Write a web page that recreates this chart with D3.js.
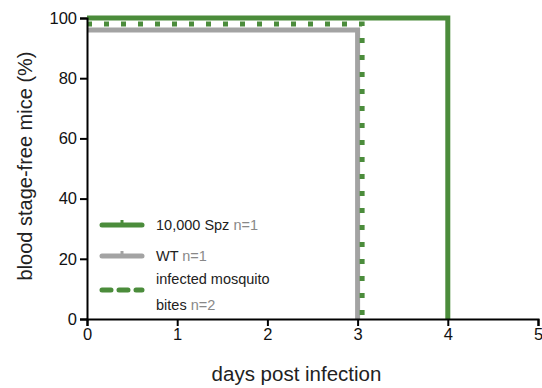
<!DOCTYPE html>
<html>
<head>
<meta charset="utf-8">
<script src="https://cdn.jsdelivr.net/npm/d3@7"></script>
<style>
  body { margin: 0; background: #fff; }
  text { font-family: "Liberation Sans", Arial, sans-serif; }
</style>
</head>
<body>
<div id="chart"></div>
<script>
// survival curves
var spzDays = [0, 4, 4]
var spzValues = [100, 100, 0]
var wtDays = [0, 3, 3]
var wtValues = [96, 96, 0]
var biteDays = [0, 3.05, 3.05]
var biteValues = [98, 98, 0]

var xTicks = [0, 1, 2, 3, 4, 5]
var yTicks = [0, 20, 40, 60, 80, 100]

var legendItems = [
  { label: '10,000 Spz', n: 'n=1', kind: 'spz' },
  { label: 'WT', n: 'n=1', kind: 'wt' },
  { label: 'infected mosquito', label2: 'bites', n: 'n=2', kind: 'bite' }
]

var GREEN = '#4b8c3b'
var GRAY = '#a3a3a3'

var width = 542
var height = 388
var margin = { left: 87, right: 4, top: 18, bottom: 69 }

var svg = d3.select('#chart').append('svg')
  .attr('width', width)
  .attr('height', height)

var x = d3.scaleLinear().domain([0, 5]).range([margin.left, width - margin.right])
var y = d3.scaleLinear().domain([0, 100]).range([height - margin.bottom, margin.top])

function toPoints (days, values) {
  return days.map(function (d, i) { return [d, values[i]] })
}

var line = d3.line()
  .x(function (d) { return x(d[0]) })
  .y(function (d) { return y(d[1]) })

// curves
svg.append('path')
  .attr('d', line(toPoints(wtDays, wtValues)))
  .attr('fill', 'none')
  .attr('stroke', GRAY)
  .attr('stroke-width', 5)

svg.append('path')
  .attr('d', line(toPoints(biteDays, biteValues)))
  .attr('fill', 'none')
  .attr('stroke', GREEN)
  .attr('stroke-width', 5)
  .attr('stroke-dasharray', '5,12')

svg.append('path')
  .attr('d', line(toPoints(spzDays, spzValues)))
  .attr('fill', 'none')
  .attr('stroke', GREEN)
  .attr('stroke-width', 5)

// axes
var xAxis = svg.append('g')
  .attr('transform', 'translate(0,' + y(0) + ')')
  .call(d3.axisBottom(x).tickValues(xTicks).tickFormat(d3.format('d')).tickSize(7).tickPadding(2))
var yAxis = svg.append('g')
  .attr('transform', 'translate(' + x(0) + ',0)')
  .call(d3.axisLeft(y).tickValues(yTicks).tickFormat(d3.format('d')).tickSize(7).tickPadding(3))

;[xAxis, yAxis].forEach(function (a) {
  a.select('.domain').attr('stroke', '#000').attr('stroke-width', 2)
  a.selectAll('.tick line').attr('stroke', '#000').attr('stroke-width', 2)
  a.selectAll('.tick text')
    .attr('fill', '#111')
    .style('font-size', '16.5px')
    .style('font-family', '"Liberation Sans", Arial, sans-serif')
})

svg.append('text')
  .attr('x', (x(0) + x(5)) / 2 - 16)
  .attr('y', 381)
  .attr('text-anchor', 'middle')
  .attr('fill', '#222')
  .style('font-size', '20.5px')
  .text('days post infection')

svg.append('text')
  .attr('transform', 'translate(32,166) rotate(-90)')
  .attr('text-anchor', 'middle')
  .attr('fill', '#222')
  .style('font-size', '20px')
  .text('blood stage-free mice (%)')

// legend
var legendRows = [225, 256, 290]
var legend = svg.append('g')
legendItems.forEach(function (item, i) {
  var ly = legendRows[i]
  var g = legend.append('g')
  if (item.kind === 'bite') {
    g.append('line')
      .attr('x1', 102).attr('x2', 142).attr('y1', ly).attr('y2', ly)
      .attr('stroke', GREEN).attr('stroke-width', 5)
      .attr('stroke-dasharray', '9,8')
      .attr('stroke-linecap', 'round')
  } else {
    var c = item.kind === 'spz' ? GREEN : GRAY
    g.append('line')
      .attr('x1', 102).attr('x2', 142).attr('y1', ly).attr('y2', ly)
      .attr('stroke', c).attr('stroke-width', 5)
      .attr('stroke-linecap', 'round')
    g.append('line')
      .attr('x1', 122).attr('x2', 122).attr('y1', ly - 5).attr('y2', ly)
      .attr('stroke', c).attr('stroke-width', 3)
  }
  var t = g.append('text')
    .attr('x', 156)
    .attr('y', item.label2 ? ly - 6 : ly + 5)
    .attr('fill', '#222')
    .style('font-size', '14.5px')
  t.append('tspan').text(item.label)
  if (item.label2) {
    var t2 = g.append('text')
      .attr('x', 156)
      .attr('y', ly + 20)
      .attr('fill', '#222')
      .style('font-size', '14.5px')
    t2.append('tspan').text(item.label2)
    t2.append('tspan').attr('fill', '#888').text(' ' + item.n)
  } else {
    t.append('tspan').attr('fill', '#888').text(' ' + item.n)
  }
})
</script>
</body>
</html>
